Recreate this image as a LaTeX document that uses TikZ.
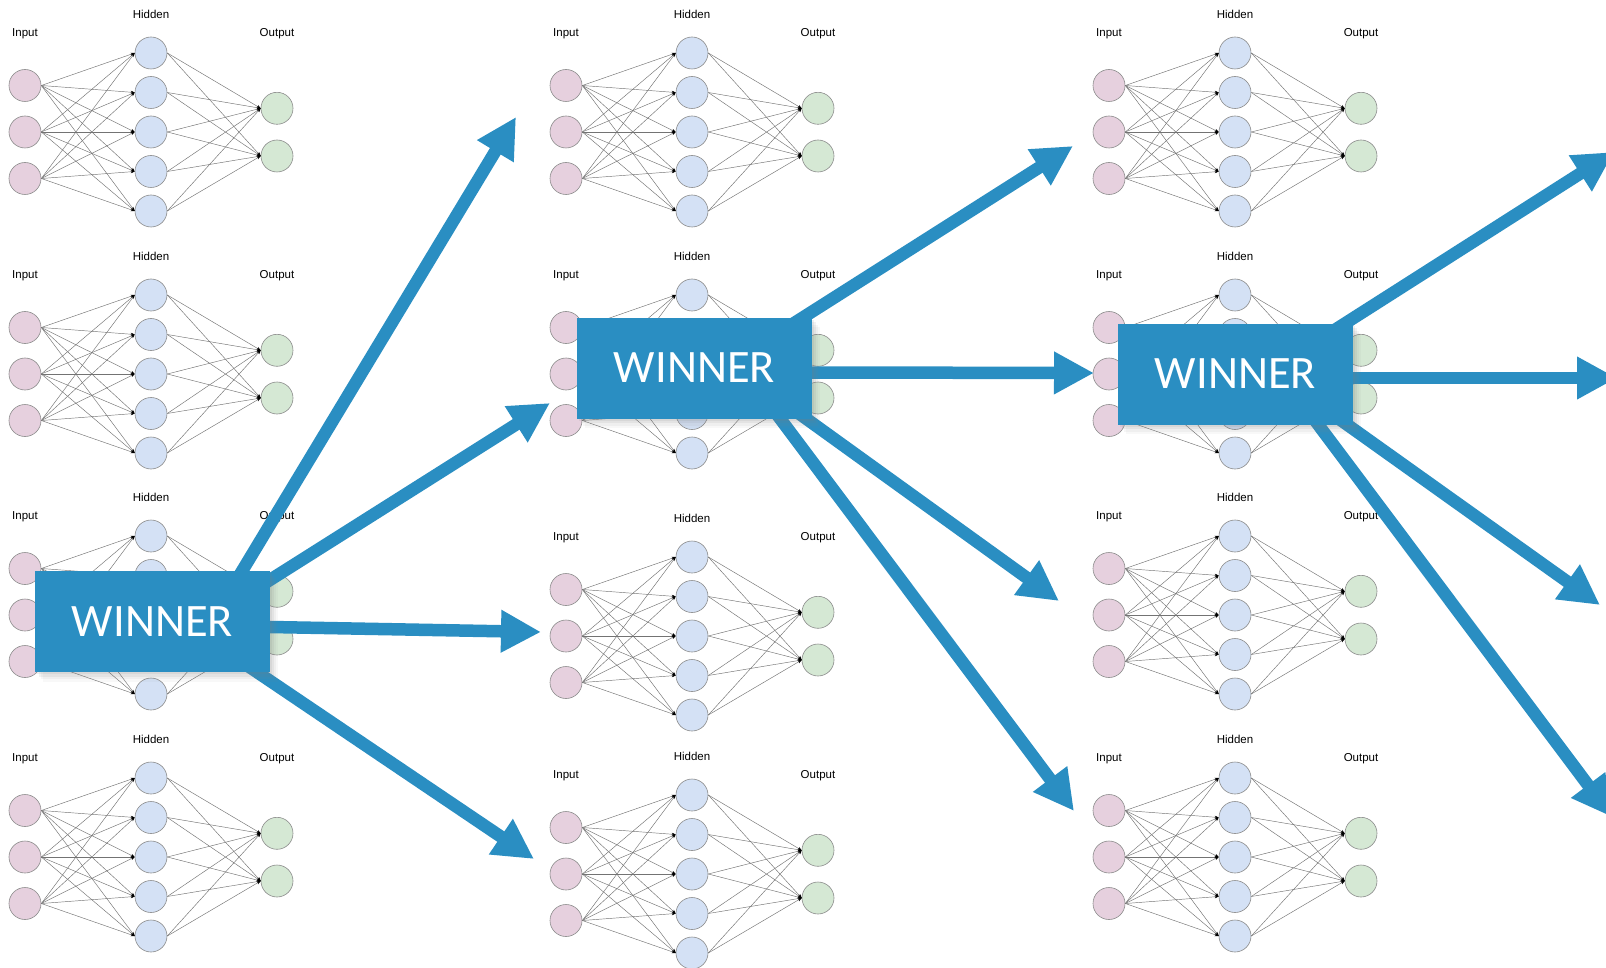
\documentclass[tikz,border=0pt]{standalone}
\usepackage{fontspec}
\setmainfont{Liberation Sans}
\newfontfamily\winfont{Carlito}
\usetikzlibrary{arrows.meta,shadows}

\definecolor{winblue}{HTML}{2A8EC2}
\definecolor{inpink}{HTML}{E6D0DE}
\definecolor{hidblue}{HTML}{D4E1F5}
\definecolor{outgreen}{HTML}{D5E8D4}

\pgfdeclarelayer{front}
\pgfsetlayers{main,front}

\begin{document}
\begin{tikzpicture}[x=1pt,y=-1pt]
  \tikzstyle{nd} = [circle, draw=black!45, line width=0.6pt,
  minimum size=32pt, inner sep=0pt];
  \tikzstyle{ni} = [fill=inpink];
  \tikzstyle{nh} = [fill=hidblue];
  \tikzstyle{no} = [fill=outgreen];
  \tikzstyle{lb} = [inner sep=0pt, font=\fontsize{11.5}{12}\selectfont];
  \tikzstyle{ed} = [draw=black!55, line width=0.45pt,
  -{Stealth[length=4pt,width=3pt,black]}];
  \tikzstyle{wb} = [fill=winblue, text=white, inner sep=0pt,
  minimum width=235pt, minimum height=101pt,
  font=\winfont\fontsize{46.5}{50}\selectfont,
  drop shadow={shadow xshift=1.5pt, shadow yshift=-2pt, opacity=0.12},
  drop shadow={shadow xshift=3.5pt, shadow yshift=-4.5pt, opacity=0.10},
  drop shadow={shadow xshift=5.5pt, shadow yshift=-7pt, opacity=0.07},
  drop shadow={shadow xshift=8pt, shadow yshift=-9.5pt, opacity=0.05}];
  \tikzstyle{ar} = [draw=winblue, line width=12.5pt, shorten <=-14pt,
  -{Triangle[length=40pt,width=40pt]}];

  \useasboundingbox (0,0) rectangle (1606,968);
  \fill[white] (0,0) rectangle (1606,968);
  \clip (0,0) rectangle (1606,968);

  % twelve small networks
  \foreach \nx/\ny/\nn in {151/14/a, 151/256/b, 151/497/c, 151/739/d,
    692/14/e, 692/256/f, 692/518/g, 692/756/h,
    1235/14/k, 1235/256/l, 1235/497/m, 1235/739/q} {
    \node[lb] (\nn-lh) at (\nx,\ny) {Hidden};
    \node[lb] (\nn-li) at (\nx-126,\ny+20) {Input};
    \node[lb] (\nn-lo) at (\nx+126,\ny+20) {Output};
    \foreach \k/\yy in {1/71.5, 2/118, 3/164.5}
      \node[nd,ni] (\nn-i\k) at (\nx-126,\ny+\yy) {};
    \foreach \k/\yy in {1/39, 2/78.5, 3/118, 4/157.5, 5/197}
      \node[nd,nh] (\nn-h\k) at (\nx,\ny+\yy) {};
    \foreach \k/\yy in {1/94.3, 2/142}
      \node[nd,no] (\nn-o\k) at (\nx+126,\ny+\yy) {};
    \foreach \p in {1,2,3}
      \foreach \q in {1,...,5}
        \draw[ed] (\nn-i\p.east) -- (\nn-h\q.west);
    \foreach \p in {1,...,5}
      \foreach \q in {1,2}
        \draw[ed] (\nn-h\p.east) -- (\nn-o\q.west);
  }

  % winners
  \begin{pgfonlayer}{front}
    \node[wb] (w1) at (152.5,621.5) {WINNER};
    \node[wb] (w2) at (694.5,368) {WINNER};
    \node[wb] (w3) at (1235.5,374) {WINNER};
  \end{pgfonlayer}

  \coordinate (ta1) at (516,117);
  \coordinate (ta2) at (550,403);
  \coordinate (ta3) at (541,632);
  \coordinate (ta4) at (534,859);
  \coordinate (tb1) at (1073,146);
  \coordinate (tb2) at (1094,373);
  \coordinate (tb3) at (1059,601);
  \coordinate (tb4) at (1074,811);
  \coordinate (tc1) at (1614,152);
  \coordinate (tc2) at (1617,378);
  \coordinate (tc3) at (1600,605);
  \coordinate (tc4) at (1612,817);

  \draw[ar] ([xshift=-28pt]w1.north east) -- (ta1);
  \draw[ar] ([yshift=-9pt]w1.north east) -- (ta2);
  \draw[ar] ([yshift=-5.5pt]w1.east) -- (ta3);
  \draw[ar] ([xshift=-13pt]w1.south east) -- (ta4);

  \draw[ar] ([xshift=-9pt]w2.north east) -- (tb1);
  \draw[ar] ([yshift=-4.5pt]w2.east) -- (tb2);
  \draw[ar] ([xshift=-6pt]w2.south east) -- (tb3);
  \draw[ar] ([xshift=-32pt]w2.south east) -- (tb4);

  \draw[ar] ([xshift=-8pt]w3.north east) -- (tc1);
  \draw[ar] ([yshift=-4pt]w3.east) -- (tc2);
  \draw[ar] ([xshift=-6pt]w3.south east) -- (tc3);
  \draw[ar] ([xshift=-35pt]w3.south east) -- (tc4);
\end{tikzpicture}
\end{document}
